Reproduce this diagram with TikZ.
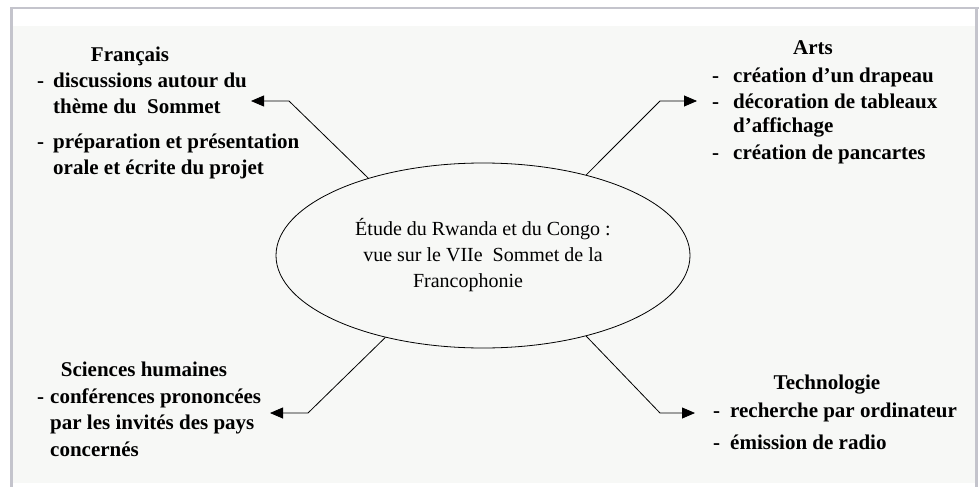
\documentclass[tikz,border=0pt]{standalone}
\usepackage{fontspec}
\setmainfont{Liberation Serif}
\usepackage{tikz}
\usetikzlibrary{shapes.geometric,arrows.meta}
\definecolor{framegray}{RGB}{196,196,204}
\definecolor{panelfill}{RGB}{247,248,246}
\tikzset{
    branch/.style={line width=0.8pt, -{Triangle[length=13pt,width=11pt,fill=black]}},
    heading/.style={font=\bfseries\fontsize{21}{26}\selectfont, anchor=base, inner sep=0pt},
    points/.style={font=\bfseries\fontsize{21}{26}\selectfont, anchor=base west, inner sep=0pt}
}

\begin{document}
\begin{tikzpicture}[x=1pt,y=-1pt]
        \useasboundingbox (0,0) rectangle (979,487);
        \fill [white] (0,0) rectangle (979,487);
        \fill [panelfill] (12,26) rectangle (975,483);
        \draw [framegray, line width=2pt] (10,8) -- (979,8);
        \draw [framegray, line width=3pt] (11.5,7) -- (11.5,487);
        \draw [framegray, line width=3pt] (976.5,7) -- (976.5,487);

        \node [draw, ellipse, line width=0.8pt, minimum width=414pt, minimum height=185pt, inner sep=0pt, align=center, font=\fontsize{20}{26}\selectfont] (etude) at (483,255.5) {Étude du Rwanda et du Congo :\\vue sur le VIIe \ Sommet de la\\\hspace*{-30pt}Francophonie};

        \node [heading] (francais) at (130,61) {Français};
        \node [points] (francais list) at (37,87) {\begin{tabular}[t]{@{}l@{\hspace{9pt}}l@{}}
            - & discussions autour du\\ & thème du \ Sommet\\[9pt]
            - & préparation et présentation\\ & orale et écrite du projet
        \end{tabular}};
        \coordinate (francais bend) at (289,101);
        \coordinate (francais tip) at (251,101);
        \draw [branch] (etude.146) -- (francais bend) -- (francais tip);

        \node [heading] (arts) at (813,55) {Arts};
        \node [points] (arts list) at (712,82) {\begin{tabular}[t]{@{}l@{\hspace{14pt}}l@{}}
            - & création d’un drapeau\\[0pt]
            - & décoration de tableaux\\[-2pt] & d’affichage\\[1pt]
            - & création de pancartes
        \end{tabular}};
        \coordinate (arts bend) at (660,101);
        \coordinate (arts tip) at (697,101);
        \draw [branch] (etude.38) -- (arts bend) -- (arts tip);

        \node [heading] (sciences) at (144,376) {Sciences humaines};
        \node [points] (sciences list) at (37,403) {\begin{tabular}[t]{@{}l@{\hspace{6pt}}l@{}}
            - & conférences prononcées\\ & par les invités des pays\\[1pt] & concernés
        \end{tabular}};
        \coordinate (sciences bend) at (308,413);
        \coordinate (sciences tip) at (270,413);
        \draw [branch] (etude.220) -- (sciences bend) -- (sciences tip);

        \node [heading] (techno) at (827,389) {Technologie};
        \node [points] (techno list) at (713,417) {\begin{tabular}[t]{@{}l@{\hspace{10pt}}l@{}}
            - & recherche par ordinateur\\[6pt]
            - & émission de radio
        \end{tabular}};
        \coordinate (techno bend) at (660,413);
        \coordinate (techno tip) at (695,413);
        \draw [branch] (etude.322) -- (techno bend) -- (techno tip);
\end{tikzpicture}
\end{document}
